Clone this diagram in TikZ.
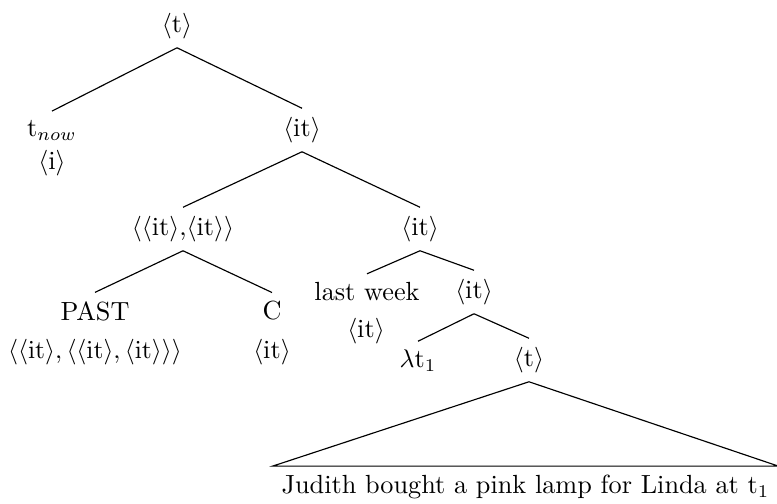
\documentclass[tikz,border=0pt]{standalone}
\begin{document}
\begin{tikzpicture}[x=0.3906pt, y=-0.3906pt,
  lbl/.style={inner sep=3.3pt, font=\fontsize{10.25}{12.3}\selectfont},
  edge/.style={draw=black, line width=0.45pt}]
\useasboundingbox (0,0) rectangle (777,503);
\newcommand{\ty}[1]{$\langle$#1$\rangle$}
% nodes
\node[lbl] (root) at (177,26) {\ty{t}};
\node[lbl] (tnow) at (52,130) {t$_{now}$};
\node[lbl] (tnowty) at (52,163) {\ty{i}};
\node[lbl] (it1) at (302,130) {\ty{it}};
\node[lbl] (fn) at (183,229) {$\langle$\ty{it},\ty{it}$\rangle$};
\node[lbl] (past) at (95,311) {PAST};
\node[lbl] (pastty) at (95,352) {$\langle\langle\mathrm{it}\rangle, \langle\langle\mathrm{it}\rangle, \langle\mathrm{it}\rangle\rangle\rangle$};
\node[lbl] (c) at (272,311) {C};
\node[lbl] (cty) at (272,352) {\ty{it}};
\node[lbl] (it2) at (420,229) {\ty{it}};
\node[lbl] (lw) at (367,292) {last week};
\node[lbl] (lwty) at (366,331) {\ty{it}};
\node[lbl] (it3) at (474,292) {\ty{it}};
\node[lbl] (lam) at (418,361) {$\lambda$t$_1$};
\node[lbl] (t2) at (529,360) {\ty{t}};
\node[lbl] (sent) at (525.5,487) {Judith bought a pink lamp for Linda at t$_1$};
% branches
\draw[edge] (root.south) -- (tnow.north);
\draw[edge] (root.south) -- (it1.north);
\draw[edge] (it1.south) -- (fn.north);
\draw[edge] (it1.south) -- (it2.north);
\draw[edge] (fn.south) -- (past.north);
\draw[edge] (fn.south) -- (c.north);
\draw[edge] (it2.south) -- (lw.north);
\draw[edge] (it2.south) -- (it3.north);
\draw[edge] (it3.south) -- (lam.north);
\draw[edge] (it3.south) -- (t2.north);
% roof over the unanalysed clause
\draw[edge] (t2.south) -- (sent.north west) -- (sent.north east) -- cycle;
\end{tikzpicture}
\end{document}
